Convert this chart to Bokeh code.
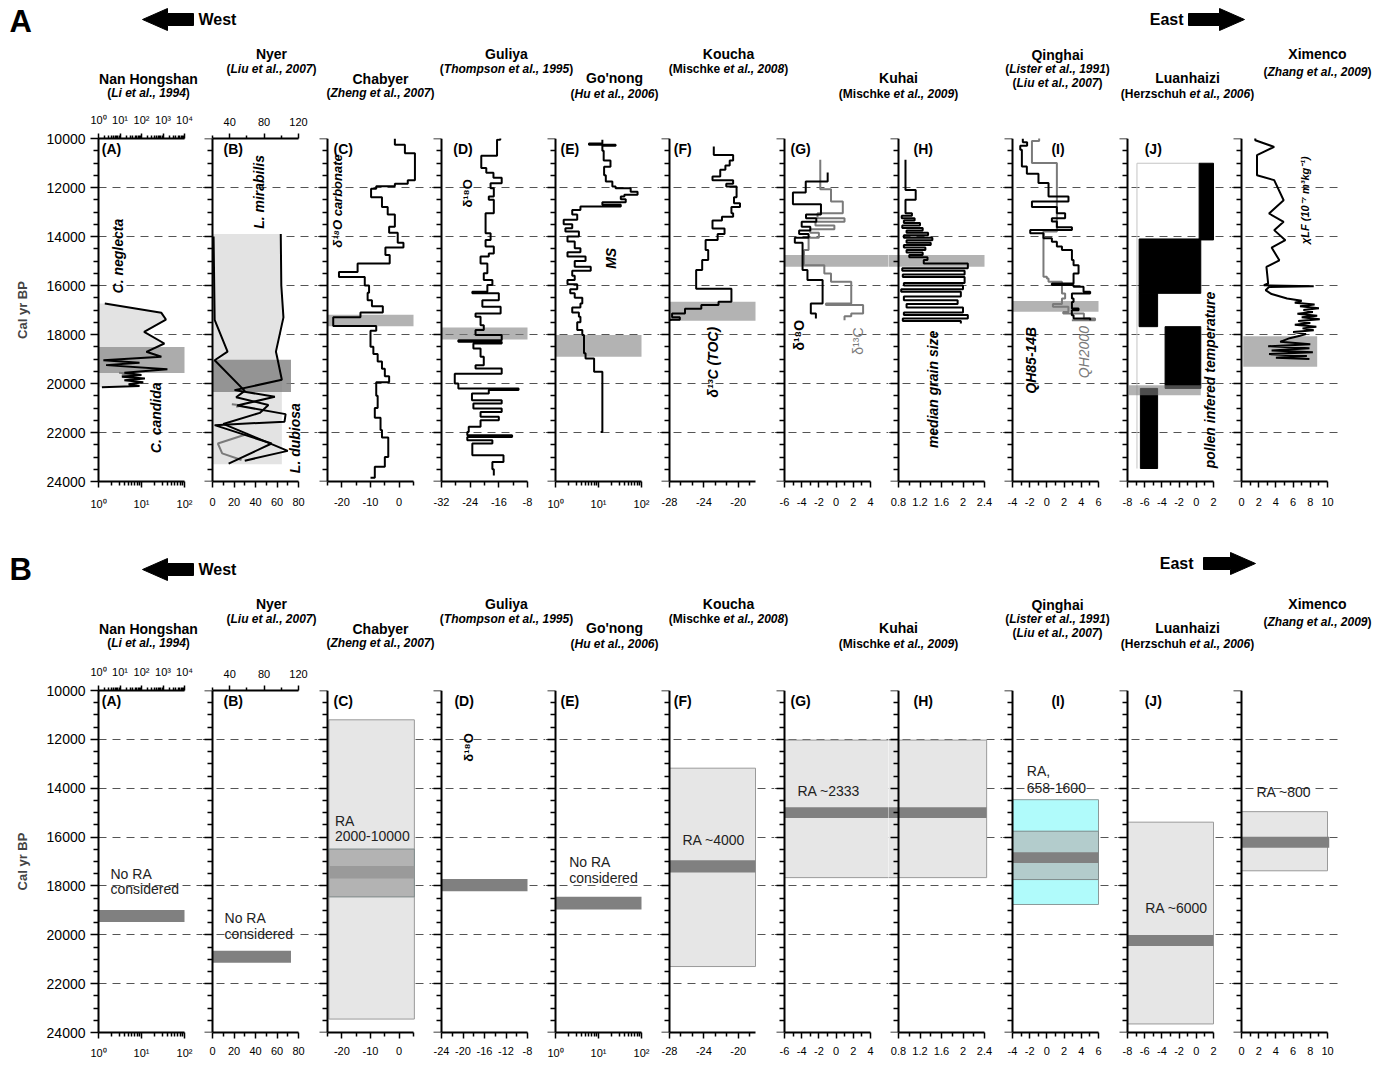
import math
from bokeh.plotting import figure
from bokeh.models import (Range1d, LinearAxis, LogAxis, FixedTicker, Grid, LogScale,
                          CustomJSTickFormatter)
from bokeh.layouts import column, row
from bokeh.core.properties import value
from bokeh.embed import file_html
from bokeh.resources import INLINE

FONT = "Liberation Sans"

# ============================ DATA ============================
AGE_TICKS = [10000, 12000, 14000, 16000, 18000, 20000, 22000, 24000]
AGE_TICK_LABELS = ["10000", "12000", "14000", "16000", "18000", "20000", "22000", "24000"]
AGE_MINOR = [10500, 11000, 11500, 12500, 13000, 13500, 14500, 15000, 15500, 16500,
             17000, 17500, 18500, 19000, 19500, 20500, 21000, 21500, 22500, 23000, 23500]

SITES = ["Nan Hongshan", "Nyer", "Chabyer", "Guliya", "Go'nong", "Koucha", "Kuhai",
         "Qinghai", "Luanhaizi", "Ximenco"]
CITATIONS = [
    [("(", "Li et al., 1994", ")")],
    [("(", "Liu et al., 2007", ")")],
    [("(", "Zheng et al., 2007", ")")],
    [("(", "Thompson et al., 1995", ")")],
    [("(", "Hu et al., 2006", ")")],
    [("(Mischke ", "et al., 2008", ")")],
    [("(Mischke ", "et al., 2009", ")")],
    [("(", "Lister et al., 1991", ")"), ("(", "Liu et al., 2007", ")")],
    [("(Herzschuh ", "et al., 2006", ")")],
    [("(", "Zhang et al., 2009", ")")],
]
PANEL_LETTERS = ["(A)", "(B)", "(C)", "(D)", "(E)", "(F)", "(G)", "(H)", "(I)", "(J)", ""]

LOG_MINOR_2 = [2, 3, 4, 5, 6, 7, 8, 9, 20, 30, 40, 50, 60, 70, 80, 90]
LOG_MINOR_4 = LOG_MINOR_2 + [200, 300, 400, 500, 600, 700, 800, 900,
                             2000, 3000, 4000, 5000, 6000, 7000, 8000, 9000]

AX_A = dict(lim=(1, 100), log=True, ticks=[1, 10, 100], minor=LOG_MINOR_2, labels=["10⁰", "10¹", "10²"])
AX_B = dict(lim=(0, 80), log=False, ticks=[0, 20, 40, 60, 80], minor=[10, 30, 50, 70],
            labels=["0", "20", "40", "60", "80"])
AX_C = dict(lim=(-25, 5), log=False, ticks=[-20, -10, 0], minor=[-25, -15, -5, 5], labels=["-20", "-10", "0"])
AX_D_TOP = dict(lim=(-32, -8), log=False, ticks=[-32, -24, -16, -8], minor=[-28, -20, -12],
                labels=["-32", "-24", "-16", "-8"])
AX_D_BOT = dict(lim=(-24, -8), log=False, ticks=[-24, -20, -16, -12, -8], minor=[-22, -18, -14, -10],
                labels=["-24", "-20", "-16", "-12", "-8"])
AX_E = dict(lim=(1, 100), log=True, ticks=[1, 10, 100], minor=LOG_MINOR_2, labels=["10⁰", "10¹", "10²"])
AX_F = dict(lim=(-28, -18), log=False, ticks=[-28, -24, -20],
            minor=[-26.67, -25.33, -22.67, -21.33, -18.67], labels=["-28", "-24", "-20"])
AX_G = dict(lim=(-6, 4), log=False, ticks=[-6, -4, -2, 0, 2, 4], minor=[-5, -3, -1, 1, 3],
            labels=["-6", "-4", "-2", "0", "2", "4"])
AX_H = dict(lim=(0.8, 2.4), log=False, ticks=[0.8, 1.2, 1.6, 2.0, 2.4], minor=[1.0, 1.4, 1.8, 2.2],
            labels=["0.8", "1.2", "1.6", "2", "2.4"])
AX_I = dict(lim=(-4, 6), log=False, ticks=[-4, -2, 0, 2, 4, 6], minor=[-3, -1, 1, 3, 5],
            labels=["-4", "-2", "0", "2", "4", "6"])
AX_J = dict(lim=(-8, 2), log=False, ticks=[-8, -6, -4, -2, 0, 2], minor=[-7, -5, -3, -1, 1],
            labels=["-8", "-6", "-4", "-2", "0", "2"])
AX_X = dict(lim=(0, 10), log=False, ticks=[0, 2, 4, 6, 8, 10], minor=[1, 3, 5, 7, 9],
            labels=["0", "2", "4", "6", "8", "10"])
AXES_TOP = [AX_A, AX_B, AX_C, AX_D_TOP, AX_E, AX_F, AX_G, AX_H, AX_I, AX_J, AX_X]
AXES_BOT = [AX_A, AX_B, AX_C, AX_D_BOT, AX_E, AX_F, AX_G, AX_H, AX_I, AX_J, AX_X]

TOPAX_A = dict(lim=(1, 10000), log=True, ticks=[1, 10, 100, 1000, 10000], minor=LOG_MINOR_4,
               labels=["10⁰", "10¹", "10²", "10³", "10⁴"])
TOPAX_B = dict(lim=(20, 120), log=False, ticks=[40, 80, 120], minor=[20, 60, 100], labels=["40", "80", "120"])

# ---- (A) Nan Hongshan : ostracod abundance (log)
A_NEG_AGE = [16735, 17116, 17390, 17890, 18367, 18707, 18910, 19050, 19150, 19250, 19420,
             19560, 19650, 19720, 19800, 19870, 19950, 20030, 20100, 20150]
A_NEG_VAL = [1.4, 29, 37, 11.5, 34, 13, 29, 1.3, 9, 1.5, 40, 4, 10, 3.5, 12, 4, 11, 5, 9, 1.2]
A_CAND_AGE = [19560, 19610, 19660, 19720]
A_CAND_VAL = [3.0, 6.5, 3.5, 5.5]
A_BAND = (18510, 19570)

# ---- (B) Nyer : ostracod counts
B_FILL_AGE = [13900, 13900, 16000, 17300, 18700, 18900, 19850, 23300, 23300]
B_FILL_VAL = [0, 63.5, 64, 66, 59, 60, 64.5, 64.5, 0]
B_MIR_AGE = [13900, 16000, 17300, 18700, 18900, 19850, 20270, 20540, 20900, 21250, 21560, 21700, 22450, 23270]
B_MIR_VAL = [63.5, 64, 66, 59, 60, 64.5, 20.5, 58, 23, 68, 67, 2, 55, 15]
B_DUB_AGE = [14000, 17400, 18700, 19050, 20300, 20560, 20880, 21200, 21650, 22200, 22750, 23150]
B_DUB_VAL = [1, 2, 14, 2, 30, 22, 52, 44, 10, 40, 70, 30]
B_GRAY_AGE = [[20850, 20900, 20950], [22050, 22450, 22850, 23120]]
B_GRAY_VAL = [[18, 28, 22], [33, 5, 9, 27]]
B_BAND = (19030, 20350)

# ---- (C) Chabyer d18O carbonate (step)
C_AGE = [10000, 10250, 10600, 11700, 11850, 11950, 12050, 12400, 12800, 13100, 13600, 13850, 14250,
         14450, 14750, 15100, 15450, 15650, 16000, 16300, 16600, 16850, 17100, 17300, 17650, 17850,
         18500, 18800, 19100, 19400, 19700, 19950, 20500, 21000, 21400, 21900, 22200, 23000, 23400, 23850]
C_VAL = [-1.5, 2, 5.5, 3, -1.5, -8, -9.8, -6, -4, -1.5, -3.5, -0.5, 1.5,
         -4.8, -3.3, -14.5, -21, -12, -10.5, -11, -9.5, -5.7, -13.5, -23, -8, -10,
         -9, -7.5, -6, -5, -3.5, -8, -7.5, -8.5, -6.5, -6, -3.8, -5, -8.5, -10]
C_BAND = (17190, 17660)

# ---- (D) Guliya d18O (step)
D_AGE = [9900, 10050, 10700, 11200, 11400, 11600, 11830, 12030, 12370, 12500, 13050, 13870, 14140,
         14410, 14690, 14820, 15100, 15500, 15780, 15980, 16250, 16320, 16600, 16870, 17140, 17280,
         17620, 17820, 18020, 18230, 18300, 18370, 18570, 18910, 19250, 19390, 19600, 20000, 20200,
         20270, 20410, 20680, 20820, 21020, 21160, 21360, 21500, 21770, 21980, 22110, 22180, 22320,
         22450, 22930, 23200, 23500, 23750]
D_VAL = [-15.6, -16.5, -20.9, -19.5, -17.5, -15.2, -18.3, -17.4, -18.8, -17.4, -19.7, -18.3, -19.7,
         -17.4, -18.8, -21.1, -19.2, -20.2, -17.8, -19.2, -23.4, -16.0, -20.6, -15.5, -22.5, -21.1,
         -20.2, -22.5, -15.2, -27.3, -15.2, -23.1, -21.1, -20.2, -22.5, -15.2, -28.3, -27.3, -10.5,
         -18.8, -23.5, -15.2, -23.1, -15.2, -21.1, -16.0, -21.1, -24.4, -24.8, -12.3, -24.8, -17.8,
         -23.4, -14.7, -17.8, -17.4, -17.4]
D_BAND = (17710, 18200)

# ---- (E) Go'nong magnetic susceptibility (log, step)
E_AGE = [10050, 10200, 10260, 10300, 10500, 10900, 11150, 11500, 11760, 11960, 12030, 12170, 12300,
         12370, 12480, 12600, 12700, 12780, 12920, 13100, 13320, 13500, 13660, 13800, 14000, 14200,
         14480, 14640, 14820, 15000, 15230, 15400, 15600, 15780, 15950, 16150, 16320, 16500, 16730,
         16900, 17100, 17280, 17500, 17820, 18020, 18770, 18980, 19520, 21980]
E_VAL = [12.3, 6.0, 25, 12.3, 13.2, 19, 13.5, 14.8, 21, 25, 56, 81, 40,
         33, 43, 12.3, 33, 3.8, 2.45, 3.2, 1.55, 2.45, 1.7, 3.5, 1.9, 2.8,
         3.8, 1.9, 5.0, 2.8, 6.6, 2.45, 2.8, 1.9, 3.2, 2.2, 2.8, 4.2, 3.8,
         2.45, 3.5, 3.8, 3.2, 4.2, 4.6, 5.0, 7.9, 12.3, 11.2]
E_BAND = (18025, 18910)

# ---- (F) Koucha d13C TOC (step)
F_AGE = [10330, 10670, 10900, 11100, 11280, 11550, 11700, 11850, 11960, 12400, 12640, 12800, 13050,
         13190, 13350, 13670, 13900, 14140, 14550, 14960, 15370, 16130, 16660, 16800, 16950, 17140,
         17300, 17400, 17450]
F_VAL = [-22.85, -20.6, -21.0, -21.5, -22.1, -23.0, -20.6, -21.4, -20.2, -20.5, -19.8, -20.8, -20.6,
         -21.9, -23.0, -21.6, -22.4, -23.8, -23.5, -24.2, -24.9, -20.8, -22.3, -24.3, -26.2, -27.7,
         -26.8, -27.9, -27.9]
F_BAND = (16660, 17440)

# ---- (G) Kuhai d18O (black) and d13C (grey), step
G_O_AGE = [11390, 11750, 12200, 12680, 13100, 13250, 13400, 13600, 13750, 13900, 14050, 14250, 15370,
           15780, 16730, 17140, 17350]
G_O_VAL = [-0.98, -3.53, -5.02, -1.76, -3.5, -2.3, -4.0, -3.0, -4.3, -3.2, -4.8, -3.9, -3.33,
           -1.57, -2.94, -2.35, -2.35]
G_C_AGE = [10870, 12070, 12570, 13050, 13250, 13400, 13550, 13700, 13850, 14050, 14550, 15170, 15510,
           15850, 16730, 16800, 17140, 17250, 17420]
G_C_VAL = [-1.84, -0.59, 0.78, -2.16, 0.98, -2.4, -0.2, -3.0, -2.0, -3.2, -3.73, -1.37, -0.59,
           1.76, -1.18, 3.14, 1.76, 0.98, 0.98]
GH_BAND = (14750, 15230)

# ---- (H) Kuhai median grain size (step)
H_AGE = [10870, 12100, 12500, 13050, 13150, 13250, 13350, 13450, 13550, 13650, 13750, 13850, 13950,
         14050, 14150, 14250, 14350, 14450, 14550, 14650, 14750, 14850, 14960, 15100, 15300, 15400,
         15550, 15650, 15900, 16000, 16150, 16250, 16450, 16600, 16750, 16900, 17100, 17200, 17350,
         17450, 17550]
H_VAL = [0.93, 1.12, 0.93, 1.05, 0.86, 1.1, 0.9, 1.2, 0.87, 1.25, 0.95, 1.35, 0.9,
         1.43, 0.95, 1.4, 0.9, 1.3, 0.95, 1.25, 1.0, 1.34, 1.27, 2.09, 0.87, 2.03,
         0.88, 2.03, 0.9, 2.0, 0.85, 1.96, 0.9, 1.9, 0.95, 2.0, 0.9, 2.09, 0.88,
         1.96, 1.96]

# ---- (I) Qinghai QH85-14B (black) and QH2000 (grey), step
I_85_AGE = [10000, 10150, 10300, 10460, 11140, 11440, 11820, 12370, 12570, 12800, 13050, 13255,
            13390, 13620, 13730, 13870, 14070, 14210, 14410, 14550, 14960, 15170, 15510, 15920,
            15980, 16050, 16260, 16330, 16530, 16670, 16940, 17010, 17210, 17350, 17420]
I_85_VAL = [-2.8, -2.3, -3.1, -2.91, -2.33, -0.98, 0.19, 2.51, -1.74, 1.16, 2.12, 0.58,
            1.16, 2.91, -1.94, -0.4, 0.58, 1.16, 1.75, 2.91, 3.1, 3.68, 3.1, 0.58,
            3.1, 4.26, 5.03, 2.91, 3.1, 2.91, 3.68, 2.9, 3.1, 5.03, 5.03]
I_2000_AGE = [9950, 10100, 11000, 13800, 15640, 15710, 15850, 16330, 16530, 16760, 16870, 17080,
              17140, 17350, 17420]
I_2000_VAL = [-0.9, -1.74, 1.16, -0.4, 0.0, 0.19, 1.75, 2.12, 1.75, 0.7, 2.5, 1.9,
              4.3, 5.6, 2.9]
I_BAND = (16635, 17070)

# ---- (J) Luanhaizi pollen inferred temperature (blocks)
J_LEFT = [0.33, -6.65, -6.65, -3.63, -6.5]
J_RIGHT = [2.0, 0.52, -4.5, 0.52, -4.5]
J_TOP = [11010, 14100, 16320, 17680, 20200]
J_BOTTOM = [14140, 16320, 17680, 20200, 23470]
J_FRAME_VAL = [0.33, -6.9, -6.9]
J_FRAME_AGE = [11010, 11010, 23470]
J_BAND = (20070, 20480)
J_BAND_X = (-7.85, 0.52)

# ---- Ximenco magnetic susceptibility
X_AGE = [9860, 10070, 10340, 10680, 11500, 11700, 12520, 13060, 13400, 13740, 14150, 14450, 14970,
         15240, 15920, 15990, 16030, 16060, 16190, 16350, 16530, 16620, 16700, 16780, 16850, 16930,
         17000, 17080, 17150, 17230, 17300, 17380, 17450, 17530, 17600, 17680, 17750, 17830, 17900,
         17980, 18050, 18150, 18300, 18400, 18480, 18560, 18650, 18720, 18800, 18880, 18950, 19000]
X_VAL = [1.6, 1.6, 3.8, 1.8, 1.8, 3.8, 4.9, 3.2, 4.9, 3.8, 5.1, 3.5, 4.4,
         2.9, 3.1, 2.6, 8.4, 3.2, 2.8, 3.5, 5.3, 7.0, 6.2, 8.5, 6.8, 9.0,
         7.2, 8.3, 6.5, 8.8, 7.0, 9.1, 6.6, 8.0, 6.2, 8.7, 7.1, 8.4, 6.0,
         7.5, 6.8, 5.6, 4.5, 8.0, 3.1, 7.9, 3.5, 8.3, 3.2, 7.6, 4.0, 7.9]
X_BAND = (18070, 19320)
X_BAND_X = (0.2, 8.8)

# ---- Row B: reservoir-age ranges (boxes) and corrected events (bars)
RB_BOX = {2: (-24.5, 5.3, 11200, 23450), 5: (-28, -18, 13180, 21300), 6: (-6, 8, 12030, 17660),
          7: (0.4, 2.44, 12030, 17660), 9: (-8, 2, 15390, 23650), 10: (0, 10, 14960, 17380)}
RB_CYAN = (-4, 6, 14470, 18760)
RB_INNER = {2: (-24.5, 5.3, 16490, 18450), 8: (-4, 6, 15760, 17740)}
RB_BAR = {0: (1, 100, 18990, 19480), 1: (0, 73, 20650, 21140), 2: (-24.5, 5.3, 17180, 17700),
          3: (-24, -8, 17720, 18220), 4: (1, 100, 18440, 18960), 5: (-28, -18, 16950, 17450),
          6: (-6, 8, 14780, 15220), 7: (0.4, 2.44, 14780, 15220), 8: (-4, 6, 16620, 17060),
          9: (-8, 2, 20010, 20460), 10: (0, 10.2, 15990, 16440)}
RB_TEXT = {0: [("No RA", 1.9, 17494), ("considered", 1.9, 18139)],
           1: [("No RA", 11.2, 19333), ("considered", 11.2, 19964)],
           2: [("RA", -22.4, 15325), ("2000-10000", -22.4, 15970)],
           4: [("No RA", 2.08, 17020), ("considered", 2.08, 17660)],
           5: [("RA ~4000", -26.5, 16100)],
           6: [("RA ~2333", -4.5, 14110)],
           8: [("RA,", -2.34, 13300), ("658-1600", -2.34, 13980)],
           9: [("RA ~6000", -5.94, 18920)],
           10: [("RA ~800", 1.74, 14150)]}

# ============================ LAYOUT ============================
AXIS_PX = [98, 212, 327, 441, 555, 669, 784, 898, 1012, 1127, 1241]
DATA_PX = 86
GAP_LEFT = 10
RIGHT_END = 1338
RIGHT_PAD = 12
LEFT_BORDER = 98
FRAME_H = 343
TOP_BORDER = 30
HEADER_W = 1380

SITE_X = [148, 271, 380, 506, 614, 728, 898, 1057, 1187, 1317]
TITLE_Y = [78, 53, 78, 53, 77, 53, 77, 54, 77, 53]
CITE_Y = [[92], [68], [92], [68], [93], [68], [93], [68, 82], [93], [71]]

BAND_COLOR = "#808080"
FILL_LIGHT = "#e3e3e3"
GREY_LINE = "#7a7a7a"

W = {' ': 278, '(': 333, ')': 333, ',': 278, '.': 278, '-': 333, "'": 238,
     'a': 556, 'b': 611, 'c': 556, 'd': 611, 'e': 556, 'f': 333, 'g': 611, 'h': 611, 'i': 278,
     'j': 278, 'k': 556, 'l': 278, 'm': 889, 'n': 611, 'o': 611, 'p': 611, 'q': 611, 'r': 389,
     's': 556, 't': 333, 'u': 611, 'v': 556, 'w': 778, 'x': 556, 'y': 556, 'z': 500,
     'H': 722, 'L': 611, 'M': 833, 'T': 611, 'Z': 611}


def text_width(s, size):
    return sum(W.get(c, 556) for c in s) * size / 1000.0


def fmt(ticks, labels):
    return CustomJSTickFormatter(args=dict(tv=list(ticks), tl=list(labels)), code="""
        for (let i = 0; i < tv.length; i++) {
            if (Math.abs(tv[i] - tick) <= 1e-6 * Math.max(1, Math.abs(tick))) return tl[i];
        }
        return "";
    """)


def style_axis(axis, major_out, minor_out, size="11px", standoff=4):
    axis.axis_line_width = 2
    axis.axis_line_color = "black"
    axis.major_tick_line_width = 1.5
    axis.minor_tick_line_width = 1.5
    axis.major_tick_line_color = "black"
    axis.minor_tick_line_color = "black"
    axis.major_tick_out = major_out
    axis.major_tick_in = 0
    axis.minor_tick_out = minor_out
    axis.minor_tick_in = 0
    axis.major_label_text_font = FONT
    axis.major_label_text_font_size = size
    axis.major_label_text_color = "black"
    axis.major_label_standoff = standoff


def frame_span(i):
    ax = AXIS_PX[i]
    fl = ax if i == 0 else ax - GAP_LEFT
    fr = AXIS_PX[i + 1] - GAP_LEFT if i < len(AXIS_PX) - 1 else RIGHT_END
    return ax, fl, fr


def span_range(i, lim, log):
    ax, fl, fr = frame_span(i)
    lo, hi = lim
    a, b = (math.log10(lo), math.log10(hi)) if log else (lo, hi)
    u = (b - a) / DATA_PX
    s, e = a - (ax - fl) * u, a + (fr - ax) * u
    if log:
        s, e = 10 ** s, 10 ** e
    return Range1d(s, e)


def put_text(p, x, y, s, size="13px", style="normal", color="black", angle=0.0, align="left"):
    p.text(x=[x], y=[y], text=[s], text_font=value(FONT), text_font_size=size,
           text_font_style=style, text_color=color, angle=angle, text_align=align,
           text_baseline="middle")


def make_panel(i, spec, bottom_border, xlab_standoff, top_spec=None):
    ax, fl, fr = frame_span(i)
    left_b = LEFT_BORDER if i == 0 else 0
    right_b = RIGHT_PAD if i == len(AXIS_PX) - 1 else 0
    log = spec["log"]
    p = figure(width=left_b + (fr - fl) + right_b, height=TOP_BORDER + FRAME_H + bottom_border,
               x_range=span_range(i, spec["lim"], log), y_range=Range1d(24000, 10000),
               x_axis_type="log" if log else "linear", x_axis_location=None, y_axis_location=None,
               toolbar_location=None, output_backend="svg",
               min_border_left=left_b, min_border_right=right_b,
               min_border_top=TOP_BORDER, min_border_bottom=bottom_border)
    p.center = []
    p.outline_line_color = None
    p.background_fill_color = "white"
    p.border_fill_color = "white"
    p.add_layout(Grid(dimension=1, ticker=FixedTicker(ticks=AGE_TICKS), grid_line_color="#555555",
                      grid_line_dash="8 6", grid_line_width=1))
    yax = LinearAxis(bounds=(10000, 24000), ticker=FixedTicker(ticks=AGE_TICKS, minor_ticks=AGE_MINOR))
    style_axis(yax, 8, 5, size="14px", standoff=5)
    if i == 0:
        yax.formatter = fmt(AGE_TICKS, AGE_TICK_LABELS)
        yax.axis_label = "Cal yr BP"
        yax.axis_label_text_font = FONT
        yax.axis_label_text_font_size = "13px"
        yax.axis_label_text_font_style = "bold"
        yax.axis_label_standoff = 14
    else:
        yax.formatter = fmt([], [])
        yax.fixed_location = spec["lim"][0]
    p.add_layout(yax, "left")
    XA = LogAxis if log else LinearAxis
    xax = XA(bounds=spec["lim"], ticker=FixedTicker(ticks=spec["ticks"], minor_ticks=spec["minor"]),
             formatter=fmt(spec["ticks"], spec["labels"]))
    style_axis(xax, 6, 4, standoff=xlab_standoff)
    p.add_layout(xax, "below")
    if top_spec is not None:
        p.extra_x_ranges = {"top": span_range(i, top_spec["lim"], top_spec["log"])}
        if top_spec["log"]:
            p.extra_x_scales = {"top": LogScale()}
        TA = LogAxis if top_spec["log"] else LinearAxis
        tax = TA(x_range_name="top", bounds=top_spec["lim"],
                 ticker=FixedTicker(ticks=top_spec["ticks"], minor_ticks=top_spec["minor"]),
                 formatter=fmt(top_spec["ticks"], top_spec["labels"]))
        style_axis(tax, 5, 3, standoff=8)
        p.add_layout(tax, "above")
    return p


def band(p, lim, ages, alpha=0.6):
    p.quad(left=[lim[0]], right=[lim[1]], top=[ages[0]], bottom=[ages[1]],
           fill_color=BAND_COLOR, fill_alpha=alpha, line_color=None)


LETTER_X_TOP = [1.19, 10.2, -22.9, -28.7, 1.31, -27.5, -5.3, 1.08, 1.29, -6.0]
LETTER_X_BOT = [1.19, 10.2, -22.9, -21.6, 1.31, -27.5, -5.3, 1.08, 1.29, -6.0]


def add_letter(p, i, xs):
    if i < 10:
        put_text(p, xs[i], 10420, PANEL_LETTERS[i], size="14px", style="bold",
                 align="center" if i == 8 else "left")


def build_top():
    figs = []
    for i, spec in enumerate(AXES_TOP):
        top_spec = TOPAX_A if i == 0 else (TOPAX_B if i == 1 else None)
        figs.append(make_panel(i, spec, 35, 10, top_spec))
    pA, pB, pC, pD, pE, pF, pG, pH, pI, pJ, pX = figs
    R = math.pi / 2
    # A
    pA.patch([1] + A_NEG_VAL + [1], [A_NEG_AGE[0]] + A_NEG_AGE + [A_NEG_AGE[-1]],
             fill_color=FILL_LIGHT, line_color=None)
    band(pA, (1, 100), A_BAND, 0.65)
    pA.line(A_CAND_VAL, A_CAND_AGE, line_color=GREY_LINE, line_width=2)
    pA.line(A_NEG_VAL, A_NEG_AGE, line_color="black", line_width=2)
    put_text(pA, 2.8, 14800, "C. neglecta", "14px", "bold italic", angle=R, align="center")
    put_text(pA, 21.6, 21400, "C. candida", "14px", "bold italic", angle=R, align="center")
    # B
    pB.patch(B_FILL_VAL, B_FILL_AGE, fill_color=FILL_LIGHT, line_color=None)
    band(pB, (0, 73), B_BAND, 0.8)
    pB.multi_line(B_GRAY_VAL, B_GRAY_AGE, line_color=GREY_LINE, line_width=2)
    pB.line(B_MIR_VAL, B_MIR_AGE, line_color="black", line_width=2)
    pB.line(B_DUB_VAL, B_DUB_AGE, line_color="black", line_width=2)
    put_text(pB, 42.9, 12180, "L. mirabilis", "14px", "bold italic", angle=R, align="center")
    put_text(pB, 77, 22230, "L. dubiosa", "14px", "bold italic", angle=R, align="center")
    # C
    band(pC, (-25, 5), C_BAND)
    pC.step(C_VAL, C_AGE, mode="before", line_color="black", line_width=2)
    put_text(pC, -21.5, 12550, "δ¹⁸O carbonate", "13px", "bold italic", angle=R, align="center")
    # D
    band(pD, (-32, -8), D_BAND)
    pD.step(D_VAL, D_AGE, mode="before", line_color="black", line_width=2)
    put_text(pD, -24.7, 12240, "δ¹⁸O", "13px", "bold", angle=R, align="center")
    # E
    band(pE, (1, 100), E_BAND)
    pE.step(E_VAL, E_AGE, mode="before", line_color="black", line_width=2)
    put_text(pE, 20, 14890, "MS", "14px", "bold italic", angle=R, align="center")
    # F
    band(pF, (-28, -18), F_BAND)
    pF.step(F_VAL, F_AGE, mode="before", line_color="black", line_width=2)
    put_text(pF, -22.9, 19130, "δ¹³C (TOC)", "14px", "bold italic", angle=R, align="center")
    # G
    band(pG, (-6, 8), GH_BAND)
    pG.step(G_C_VAL, G_C_AGE, mode="before", line_color=GREY_LINE, line_width=2)
    pG.step(G_O_VAL, G_O_AGE, mode="before", line_color="black", line_width=2)
    put_text(pG, -4.37, 18030, "δ¹⁸O", "14px", "bold", angle=R, align="center")
    put_text(pG, 2.49, 18270, "δ¹³C", "14px", "normal", color=GREY_LINE, angle=R, align="center")
    # H
    band(pH, (0.4, 2.4), GH_BAND)
    pH.step(H_VAL, H_AGE, mode="before", line_color="black", line_width=2)
    put_text(pH, 1.45, 20240, "median grain size", "14px", "bold italic", angle=R, align="center")
    # I
    band(pI, (-4, 6), I_BAND)
    pI.step(I_2000_VAL, I_2000_AGE, mode="before", line_color=GREY_LINE, line_width=2)
    pI.step(I_85_VAL, I_85_AGE, mode="before", line_color="black", line_width=2)
    put_text(pI, -1.9, 19050, "QH85-14B", "14px", "bold italic", angle=R, align="center")
    put_text(pI, 4.26, 18720, "QH2000", "14px", "italic", color=GREY_LINE, angle=R, align="center")
    # J
    pJ.line(J_FRAME_VAL, J_FRAME_AGE, line_color="#c4c4c4", line_width=1)
    pJ.quad(left=J_LEFT, right=J_RIGHT, top=J_TOP, bottom=J_BOTTOM, fill_color="black", line_color="black")
    band(pJ, J_BAND_X, J_BAND, 0.6)
    put_text(pJ, 1.65, 19860, "pollen infered temperature", "14px", "bold italic", angle=R, align="center")
    # Ximenco
    band(pX, X_BAND_X, X_BAND)
    pX.line(X_VAL, X_AGE, line_color="black", line_width=2)
    put_text(pX, 7.44, 12520, "χLF (10⁻⁷ m³kg⁻¹)", "11px", "bold italic", angle=R, align="center")
    for i, p in enumerate(figs):
        add_letter(p, i, LETTER_X_TOP)
    return figs


def build_bottom():
    figs = []
    for i, spec in enumerate(AXES_BOT):
        top_spec = TOPAX_A if i == 0 else (TOPAX_B if i == 1 else None)
        figs.append(make_panel(i, spec, 28, 8, top_spec))
    for i, p in enumerate(figs):
        if i in RB_BOX:
            l, r, t, b = RB_BOX[i]
            p.quad(left=[l], right=[r], top=[t], bottom=[b], fill_color="#e6e6e6", line_color="#9a9a9a")
        if i == 8:
            l, r, t, b = RB_CYAN
            p.quad(left=[l], right=[r], top=[t], bottom=[b], fill_color="#b0fbfb", line_color="#8a9a9a")
        if i in RB_INNER:
            l, r, t, b = RB_INNER[i]
            p.quad(left=[l], right=[r], top=[t], bottom=[b],
                   fill_color="#b3b3b3" if i == 2 else "#b3cccc", line_color="#7f8a8a")
        if i in RB_BAR:
            l, r, t, b = RB_BAR[i]
            p.quad(left=[l], right=[r], top=[t], bottom=[b],
                   fill_color="#9a9a9a" if i == 2 else "#808080", line_color=None)
        for (s, x, y) in RB_TEXT.get(i, []):
            put_text(p, x, y, s, "14px", "normal", color="#222222")
        add_letter(p, i, LETTER_X_BOT)
    put_text(figs[3], -18.98, 12330, "δ¹⁸O", "13px", "bold", angle=math.pi / 2, align="center")
    return figs


def arrow(p, x_tip, x_tail, yc, head_len=25, head_h=11, shaft_h=6):
    d = 1 if x_tail > x_tip else -1
    xb = x_tip + d * head_len
    p.patch([x_tip, xb, xb, x_tail, x_tail, xb, xb],
            [yc, yc - head_h, yc - shaft_h, yc - shaft_h, yc + shaft_h, yc + shaft_h, yc + head_h],
            fill_color="black", line_color="black")


def make_header(top, height, letter, letter_y, west_y, east_tip, east_tail, east_y, east_text_right, dy):
    p = figure(width=HEADER_W, height=height, x_range=Range1d(0, HEADER_W),
               y_range=Range1d(top + height, top), x_axis_location=None, y_axis_location=None,
               toolbar_location=None, output_backend="svg", min_border_left=0, min_border_right=0,
               min_border_top=0, min_border_bottom=0)
    p.center = []
    p.outline_line_color = None
    put_text(p, 9, letter_y, letter, "31px", "bold")
    arrow(p, 142, 193, west_y)
    put_text(p, 198, west_y, "West", "16px", "bold")
    arrow(p, east_tip, east_tail, east_y)
    put_text(p, east_text_right, east_y, "East", "16px", "bold", align="right")
    for k, site in enumerate(SITES):
        cx = SITE_X[k]
        put_text(p, cx, TITLE_Y[k] + dy, site, "14px", "bold", align="center")
        for (pre, ital, post), cy in zip(CITATIONS[k], CITE_Y[k]):
            size = 12
            w1, w2, w3 = text_width(pre, size), text_width(ital, size), text_width(post, size)
            x0 = cx - (w1 + w2 + w3) / 2.0
            y = cy + dy
            put_text(p, x0, y, pre, "12px", "bold")
            put_text(p, x0 + w1, y, ital, "12px", "bold italic")
            put_text(p, x0 + w1 + w2, y, post, "12px", "bold")
    return p


header_a = make_header(0, 108, "A", 21, 19, 1244, 1188, 19, 1183, 0)
header_b = make_header(516, 144, "B", 569, 569, 1255, 1203, 563, 1193, 550)
top_row = row(*build_top())
bot_row = row(*build_bottom())
layout = column(header_a, top_row, header_b, bot_row)

open("out.html", "w").write(file_html(layout, INLINE))
